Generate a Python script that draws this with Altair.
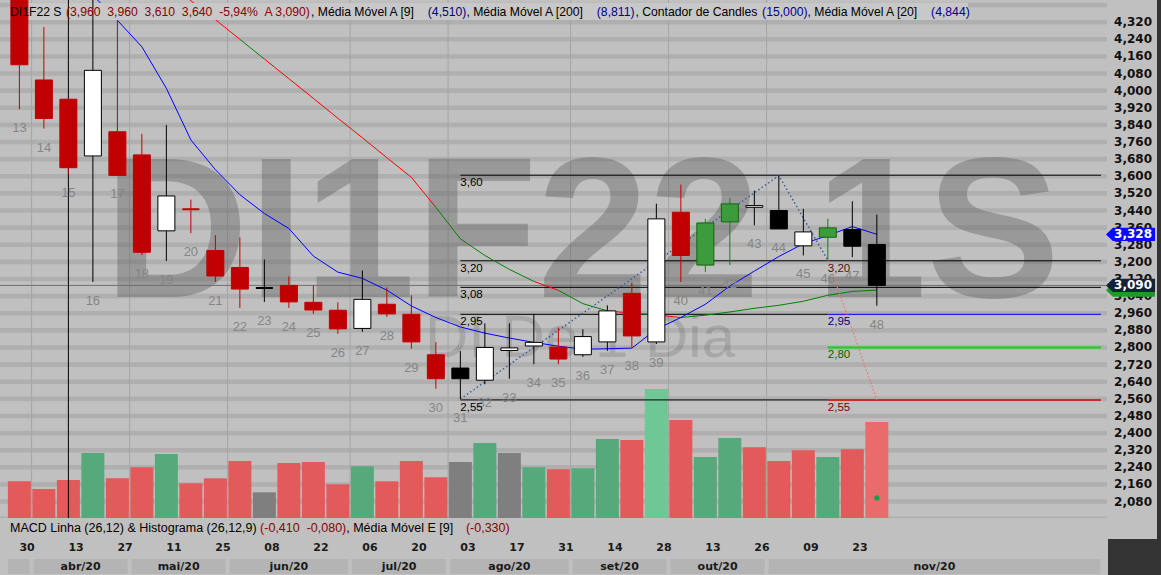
import altair as alt
import pandas as pd

# ---------------- values ----------------
candle_n = list(range(13, 49))
open_ = [4.520, 4.050, 3.960, 3.695, 3.808, 3.700, 3.345, 3.446, 3.253, 3.174,
         3.078, 3.090, 3.011, 2.974, 2.889, 3.002, 2.955, 2.766, 2.704, 2.647,
         2.786, 2.807, 2.802, 2.766, 2.826, 3.053, 2.826, 3.432, 3.185, 3.387,
         3.455, 3.440, 3.275, 3.315, 3.351, 3.281]
high = [4.600, 4.297, 3.960, 4.600, 4.330, 3.798, 3.840, 3.491, 3.325, 3.314,
        3.211, 3.132, 3.090, 3.011, 3.160, 3.081, 3.044, 2.825, 2.783, 2.913,
        2.913, 2.955, 2.893, 2.885, 2.997, 3.103, 3.472, 3.561, 3.401, 3.499,
        3.533, 3.603, 3.448, 3.402, 3.483, 3.421]
low = [3.913, 3.823, 3.610, 3.106, 3.604, 3.232, 3.204, 3.334, 3.106, 2.985,
       3.013, 2.985, 2.957, 2.864, 2.873, 2.943, 2.794, 2.607, 2.559, 2.628,
       2.654, 2.722, 2.722, 2.756, 2.784, 2.800, 2.816, 3.106, 3.152, 3.185,
       3.371, 3.354, 3.230, 3.207, 3.222, 2.995]
close = [4.121, 3.870, 3.640, 4.095, 3.604, 3.245, 3.508, 3.446, 3.134, 3.073,
         3.078, 3.013, 2.975, 2.887, 3.025, 2.957, 2.826, 2.654, 2.654, 2.800,
         2.798, 2.824, 2.746, 2.851, 2.971, 2.854, 3.401, 3.230, 3.382, 3.471,
         3.463, 3.354, 3.340, 3.359, 3.273, 3.090]
ctype = ["R", "R", "R", "W", "R", "R", "W", "R", "R", "R",
         "K", "R", "R", "R", "W", "R", "R", "R", "K", "W",
         "W", "W", "R", "W", "W", "R", "W", "R", "G", "G",
         "W", "K", "W", "G", "K", "K"]

volume = [36.7, 29, 38, 65, 39.7, 50.7, 64, 34.7, 39.7, 57,
          25.7, 55, 56, 33.7, 51.7, 36.7, 57, 40.7, 56, 75,
          65, 50.7, 48.7, 49.7, 79, 78, 129, 98, 61, 80,
          70.7, 57, 67.7, 61, 68.7, 96]
vtype = ["R", "R", "R", "G", "R", "R", "G", "R", "R", "R",
         "N", "R", "R", "R", "G", "R", "R", "R", "N", "G",
         "N", "G", "R", "G", "G", "R", "L", "R", "G", "G",
         "R", "R", "R", "G", "R", "P"]

ma9_n = list(range(15, 49))
ma9 = [4.510, 4.446, 4.329, 4.205, 4.011, 3.770, 3.631, 3.514, 3.426, 3.356,
       3.227, 3.152, 3.123, 3.068, 2.994, 2.940, 2.896, 2.867, 2.844, 2.824,
       2.806, 2.792, 2.794, 2.797, 2.885, 2.940, 3.002, 3.087, 3.157, 3.225,
       3.285, 3.323, 3.365, 3.329]
ma20_n = list(range(19, 49))
ma20 = [4.520, 4.420, 4.332, 4.240, 4.148, 4.056, 3.964, 3.871, 3.780, 3.687,
        3.595, 3.455, 3.308, 3.230, 3.165, 3.109, 3.067, 3.005, 2.971, 2.960,
        2.952, 2.940, 2.951, 2.966, 2.983, 2.997, 3.016, 3.044, 3.062, 3.068]
ma20_seg = ["R", "R", "R", "G", "R", "R", "R", "R", "R", "R",
            "R", "G", "G", "G", "G", "R", "G", "G", "R", "G",
            "R", "G", "G", "G", "G", "G", "G", "G", "G"]

zig_n = [31, 44, 46]
zig_v = [2.559, 3.603, 3.207]
proj_n = [46, 48]
proj_v = [3.207, 2.555]

fib_v = [3.605, 3.205, 3.081, 2.955, 2.555]
fib_lbl = ["3,60", "3,20", "3,08", "2,95", "2,55"]
fib_start = 31
tgt_v = [3.205, 2.955, 2.800, 2.555]
tgt_lbl = ["3,20", "2,95", "2,80", "2,55"]
tgt_col = ["#4a1010", "#000080", "#006400", "#800000"]
tgt_start = 46
last_price = 3.090
cursor_n = 15
signal_n = [48]
signal_v = [2.097]

axis_ticks = [4.32, 4.24, 4.16, 4.08, 4.00, 3.92, 3.84, 3.76, 3.68, 3.60,
              3.52, 3.44, 3.36, 3.28, 3.20, 3.12, 3.04, 2.96, 2.88, 2.80,
              2.72, 2.64, 2.56, 2.48, 2.40, 2.32, 2.24, 2.16, 2.08]
band_ticks = [4.40] + axis_ticks + [2.00]

date_n = list(range(13, 48, 2))
date_lbl = ["30", "13", "27", "11", "25", "08", "22", "06", "20", "03",
            "17", "31", "14", "28", "13", "26", "09", "23"]
month_lbl = ["", "abr/20", "mai/20", "jun/20", "jul/20", "ago/20", "set/20", "out/20", "nov/20"]
month_bounds = [12.45, 13.5, 17.5, 21.5, 26.5, 30.5, 35.5, 39.5, 43.5, 57.2]

tag_v = [3.068, 3.090, 3.328]
tag_lbl = ["", "3,090", "3,328"]
tag_col = ["#1f9a2a", "#142238", "#0a0aff"]

NB = "\u00a0"
hdr_text = ["DI1F22 S",
            f"(3,960{NB}{NB}3,960{NB}{NB}3,610{NB}{NB}3,640{NB}{NB}-5,94%{NB}{NB}A 3,090)",
            ", Média Móvel A [9]", "(4,510)", ", Média Móvel A [200]", "(8,811)",
            ", Contador de Candles", "(15,000)", ", Média Móvel A [20]", "(4,844)"]
hdr_x = [10, 66, 311, 427.8, 466.4, 596.8, 635.4, 762.1, 807.5, 931.1]
hdr_col = ["#000000", "#8b0000", "#000000", "#00008b", "#000000", "#00008b",
           "#000000", "#00008b", "#000000", "#00008b"]
macd_text = ["MACD Linha (26,12) & Histograma (26,12,9)", f"(-0,410{NB}{NB}-0,080)",
             ", Média Móvel E [9]", "(-0,330)"]
macd_x = [10, 260.1, 346.2, 465.9]
macd_col = ["#000000", "#8b0000", "#000000", "#8b0000"]

# ---------------- scales ----------------
X_DOM = [12.413, 57.15]
END = X_DOM[1]
xs = alt.Scale(domain=X_DOM, range=[0, 1106], nice=False, zero=False)
ys = alt.Scale(domain=[2.0032, 4.4237], range=[518, 0], nice=False, zero=False)
vs = alt.Scale(domain=[0, 518], range=[518, 0], nice=False, zero=True)


def X(f):
    return alt.X(f, type="quantitative", scale=xs, axis=None)


def Y(f):
    return alt.Y(f, type="quantitative", scale=ys, axis=None)


one = pd.DataFrame({"a": [0]})
FONT = "Liberation Sans"
BFONT = "DejaVu Sans"

body_fill = {"R": "#c00000", "W": "#ffffff", "K": "#000000", "G": "#3c9c3c"}
body_stroke = {"R": "#c00000", "W": "#000000", "K": "#000000", "G": "#146414"}
wick_col = {"R": "#c00000", "W": "#000000", "K": "#000000", "G": "#1e7a1e"}
vol_col = {"R": "#e25a5a", "G": "#55a97b", "N": "#7f7f7f", "L": "#6fc796", "P": "#e96b6b"}

df_c = pd.DataFrame({"n": candle_n, "o": open_, "h": high, "l": low, "c": close, "t": ctype})
df_c["top"] = df_c[["o", "c"]].max(axis=1)
df_c["bot"] = df_c[["o", "c"]].min(axis=1)
df_c["fill"] = df_c["t"].map(body_fill)
df_c["stroke"] = df_c["t"].map(body_stroke)
df_c["wick"] = df_c["t"].map(wick_col)
df_c["lbl"] = df_c["n"].astype(str)
bodies = df_c[df_c["o"] != df_c["c"]]
dojis = df_c[df_c["o"] == df_c["c"]]

df_v = pd.DataFrame({"n": candle_n, "v": volume, "col": [vol_col[t] for t in vtype]})

df_ma9 = pd.DataFrame({"n": ma9_n, "v": ma9})
df_ma20 = pd.DataFrame({"i0": ma20_n[:-1], "i1": ma20_n[1:], "v0": ma20[:-1], "v1": ma20[1:],
                        "col": ["#ff0000" if s == "R" else "#008000" for s in ma20_seg]})

df_zig = pd.DataFrame({"n": zig_n, "v": zig_v})
df_proj = pd.DataFrame({"n": proj_n, "v": proj_v})

fib_rows = []
for v in fib_v[:3]:
    fib_rows.append((fib_start, END, v, "#000000", 1))
for v in fib_v[3:]:
    fib_rows.append((fib_start, tgt_start, v, "#000000", 1))
fib_rows.append((tgt_start, END, tgt_v[1], "#0000ff", 1))
fib_rows.append((tgt_start, END, tgt_v[2], "#00e000", 2))
fib_rows.append((tgt_start, END, tgt_v[3], "#d00000", 1.5))
df_fib = pd.DataFrame(fib_rows, columns=["s", "e", "v", "col", "w"])
df_fib_lbl = pd.DataFrame({"s": [fib_start] * len(fib_v), "v": fib_v, "t": fib_lbl})
df_tgt_lbl = pd.DataFrame({"s": [tgt_start] * len(tgt_v), "v": tgt_v, "t": tgt_lbl, "col": tgt_col})

df_bands = pd.DataFrame({"v": band_ticks})
df_axis = pd.DataFrame({"v": axis_ticks, "t": [f"{v:.3f}".replace(".", ",") for v in axis_ticks]})
df_grid = pd.DataFrame({"b": month_bounds[1:-1]})
df_dates = pd.DataFrame({"n": date_n, "t": date_lbl})
df_month = pd.DataFrame({"s": month_bounds[:-1], "e": month_bounds[1:], "t": month_lbl})
df_month["m"] = (df_month["s"] + df_month["e"]) / 2
df_hdr = pd.DataFrame({"t": hdr_text, "px": hdr_x, "col": hdr_col})
df_macd = pd.DataFrame({"t": macd_text, "px": macd_x, "col": macd_col})

TAG = "M-1,0L-0.72,-0.27L1,-0.27L1,0.27L-0.72,0.27Z"

layers = []
# horizontal bands of the price pane
layers.append(alt.Chart(df_bands).mark_rect(color="#afafaf", yOffset=-2.3, y2Offset=2.3).encode(
    x=alt.value(0), x2=alt.value(1107), y=Y("v"), y2=alt.Y2("v")))
# month grid lines
layers.append(alt.Chart(df_grid).mark_rule(color="#a4a4a4", strokeWidth=1).encode(
    x=X("b"), y=alt.value(0), y2=alt.value(518)))
# watermarks
layers.append(alt.Chart(one).mark_text(text="DI1F22 1S", font=FONT, fontWeight="bold", fontSize=200,
                                      align="center", baseline="alphabetic", color="#555555",
                                      opacity=0.36).encode(x=alt.value(582), y=alt.value(297)))
layers.append(alt.Chart(one).mark_text(text="DI De 1 Dia", font=FONT, fontSize=60,
                                      align="center", baseline="alphabetic", color="#555555",
                                      opacity=0.22).encode(x=alt.value(580), y=alt.value(357)))
# volume bars
layers.append(alt.Chart(df_v).mark_bar(size=23).encode(
    x=X("n"), y=alt.Y("v", type="quantitative", scale=vs, axis=None),
    color=alt.Color("col:N", scale=None)))
# last price line
layers.append(alt.Chart(pd.DataFrame({"v": [last_price]})).mark_rule(color="#6f6f6f").encode(
    x=alt.value(0), x2=alt.value(1106), y=Y("v")))
# fibonacci / target lines
layers.append(alt.Chart(df_fib).mark_rule().encode(
    x=X("s"), x2=alt.X2("e"), y=Y("v"), color=alt.Color("col:N", scale=None),
    strokeWidth=alt.StrokeWidth("w:Q", scale=None)))
# moving averages
layers.append(alt.Chart(df_ma20).mark_rule(strokeWidth=1).encode(
    x=X("i0"), x2=alt.X2("i1"), y=Y("v0"), y2=alt.Y2("v1"), color=alt.Color("col:N", scale=None)))
layers.append(alt.Chart(df_ma9).mark_line(color="#0000ff", strokeWidth=1).encode(x=X("n"), y=Y("v")))
# zigzag dotted lines
layers.append(alt.Chart(df_zig).mark_line(color="#3a5fa0", strokeWidth=1.5, strokeDash=[1.5, 2.5]).encode(
    x=X("n"), y=Y("v")))
layers.append(alt.Chart(df_proj).mark_line(color="#f07070", strokeWidth=1.2, strokeDash=[1.5, 2]).encode(
    x=X("n"), y=Y("v")))
# header box
layers.append(alt.Chart(one).mark_rect(color="#c8c8c8").encode(
    x=alt.value(22), x2=alt.value(968), y=alt.value(3), y2=alt.value(20)))
# cursor line
layers.append(alt.Chart(pd.DataFrame({"n": [cursor_n]})).mark_rule(color="#000000").encode(
    x=X("n"), y=alt.value(0), y2=alt.value(518)))
# candles
layers.append(alt.Chart(df_c).mark_rule(strokeWidth=1).encode(
    x=X("n"), y=Y("l"), y2=alt.Y2("h"), color=alt.Color("wick:N", scale=None)))
layers.append(alt.Chart(bodies).mark_bar(size=17, strokeWidth=1).encode(
    x=X("n"), y=Y("bot"), y2=alt.Y2("top"), fill=alt.Fill("fill:N", scale=None),
    stroke=alt.Stroke("stroke:N", scale=None)))
layers.append(alt.Chart(dojis).mark_tick(orient="horizontal", size=17, thickness=2, opacity=1).encode(
    x=X("n"), y=Y("o"), color=alt.Color("wick:N", scale=None)))
# candle counter labels
layers.append(alt.Chart(df_c).mark_text(font=FONT, fontSize=13, color="#858585", baseline="middle",
                                        dy=19).encode(x=X("n"), y=Y("l"), text="lbl:N"))
# fib labels
layers.append(alt.Chart(df_fib_lbl).mark_text(font=FONT, fontSize=11.5, color="#000000", align="left",
                                             baseline="middle", dy=8).encode(x=X("s"), y=Y("v"), text="t:N"))
layers.append(alt.Chart(df_tgt_lbl).mark_text(font=FONT, fontSize=11.5, align="left", baseline="middle",
                                             dy=8).encode(x=X("s"), y=Y("v"), text="t:N",
                                                          color=alt.Color("col:N", scale=None)))
# signal dot
layers.append(alt.Chart(pd.DataFrame({"n": signal_n, "v": signal_v})).mark_circle(
    size=28, color="#15a050", opacity=1).encode(x=X("n"), y=Y("v")))
# lower pane background
layers.append(alt.Chart(one).mark_rect(color="#c0c0c0").encode(
    x=alt.value(0), x2=alt.value(1107), y=alt.value(518), y2=alt.value(575)))
# header texts
layers.append(alt.Chart(df_hdr).mark_text(font=FONT, fontSize=12.2, align="left", baseline="middle").encode(
    x=alt.X("px:Q", scale=None, axis=None), y=alt.value(12), text="t:N",
    color=alt.Color("col:N", scale=None)))
layers.append(alt.Chart(df_macd).mark_text(font=FONT, fontSize=12.5, align="left", baseline="middle").encode(
    x=alt.X("px:Q", scale=None, axis=None), y=alt.value(528), text="t:N",
    color=alt.Color("col:N", scale=None)))
# date row
layers.append(alt.Chart(df_dates).mark_text(font=BFONT, fontWeight="bold", fontSize=11, color="#1a1a1a",
                                           align="left", baseline="middle").encode(
    x=X("n"), y=alt.value(548), text="t:N"))
# month row
layers.append(alt.Chart(df_month).mark_rect(color="#b4b4b4", xOffset=2, x2Offset=-2).encode(
    x=X("s"), x2=alt.X2("e"), y=alt.value(559), y2=alt.value(574)))
layers.append(alt.Chart(df_month).mark_text(font=BFONT, fontWeight="bold", fontSize=11, color="#1a1a1a",
                                           align="center", baseline="middle").encode(
    x=X("m"), y=alt.value(567), text="t:N"))
# right axis labels
layers.append(alt.Chart(df_axis).mark_text(font=BFONT, fontWeight="bold", fontSize=12, color="#111111",
                                          align="right", baseline="middle").encode(
    x=alt.value(1152), y=Y("v"), text="t:N"))
# value tags
for v, lbl, col in zip(tag_v, tag_lbl, tag_col):
    dft = pd.DataFrame({"v": [v], "t": [lbl]})
    layers.append(alt.Chart(dft).mark_point(shape=TAG, size=2401, filled=True, opacity=1,
                                            color=col, strokeWidth=0).encode(x=alt.value(1130.5), y=Y("v")))
    if lbl:
        layers.append(alt.Chart(dft).mark_text(font=BFONT, fontWeight="bold", fontSize=12, color="#ffffff",
                                               align="right", baseline="middle").encode(
            x=alt.value(1152), y=Y("v"), text="t:N"))
# dark frame parts
layers.append(alt.Chart(one).mark_rect(color="#333333").encode(
    x=alt.value(1108), x2=alt.value(1161), y=alt.value(539), y2=alt.value(575)))
layers.append(alt.Chart(one).mark_rect(color="#333333").encode(
    x=alt.value(1157), x2=alt.value(1161), y=alt.value(0), y2=alt.value(575)))

chart = alt.layer(*layers).resolve_scale(y="independent").properties(
    width=1161, height=575, padding=0, background="#c0c0c0",
    autosize=alt.AutoSizeParams(type="none"),
).configure_view(stroke=None)

chart.save("out.html", embed_options={"renderer": "svg", "actions": False})
